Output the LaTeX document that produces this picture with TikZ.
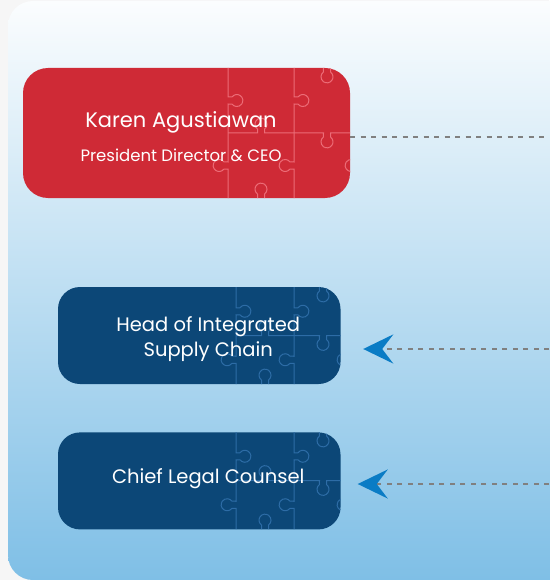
\documentclass[tikz,border=0pt]{standalone}
\usepackage{fontspec}
\setmainfont{Poppins}
\usepackage{tikz}
\usetikzlibrary{positioning,arrows.meta}

\definecolor{ceored}{HTML}{CF2A36}
\definecolor{seamred}{HTML}{EC6C77}
\definecolor{unitblue}{HTML}{0C4777}
\definecolor{seamblue}{HTML}{2D6CA6}
\definecolor{tipblue}{HTML}{0A7CC5}
\definecolor{dashgray}{HTML}{808080}
\definecolor{paneltop}{HTML}{FBFDFE}
\definecolor{panelbot}{HTML}{7FBFE6}
\definecolor{pagegray}{HTML}{F6F6F6}

\tikzset{
  % one jigsaw edge of half length #1, knob sticking out along local +y
  pics/knob/.style={code={
    \draw[seam] (-#1,0) -- (-3.5,0) -- (-3.5,4)
      arc[start angle=234, end angle=-54, radius=6] -- (3.5,0) -- (#1,0);
  }},
}

% jigsaw seams: x of first seam, top y, cell width, cell height
\newcommand{\jigsaw}[4]{%
  \foreach \col in {0,1} {
    \pic[rotate=-90] at ({#1+\col*#3},{#2-0.5*#4}) {knob=0.5*#4};
    \pic[rotate=90] at ({#1+\col*#3},{#2-1.5*#4}) {knob=0.5*#4};
  }
  \pic at ({#1+0.5*#3},{#2-#4}) {knob=0.5*#3};
  \pic[rotate=180] at ({#1+1.5*#3},{#2-#4}) {knob=0.5*#3};
  \pic[rotate=180] at ({#1+1.5*#3},#2) {knob=3.5};
  \pic at ({#1+0.5*#3},{#2-2*#4}) {knob=3.5};
  \pic[rotate=90] at ({#1+2*#3},{#2-1.5*#4}) {knob=0.5*#4};
}

\begin{document}
\begin{tikzpicture}[
x=1pt, y=1pt,
ceobox/.style={fill=ceored, rounded corners=25pt, inner sep=0pt, minimum width=327pt, minimum height=130pt},
unitbox/.style={fill=unitblue, rounded corners=22pt, inner sep=0pt, minimum width=282.5pt, minimum height=97pt},
boxtext/.style={text=white, align=center, inner sep=0pt},
dashline/.style={draw=dashgray, line width=2.8pt, dash pattern=on 5pt off 5.5pt},
reportsto/.style={dashline, -{Stealth[length=30pt, width=29pt, inset=11pt, color=tipblue]}},
]
\useasboundingbox (0,0) rectangle (549,-580);
\fill[pagegray] (0,0) rectangle (549,-580);

%Panel
\shade[top color=paneltop, bottom color=panelbot, rounded corners=25pt] (8,-1) rectangle (620,-580);

%Boxes
\node[ceobox] (ceo) at (186.5,-133) {};
\node[unitbox] (scm) at (199.25,-335.5) {};
\node[unitbox, below=48pt of scm] (legal) {};

%Puzzle seams
\begin{scope}[seam/.style={draw=seamred, line width=1pt}]
  \clip[rounded corners=25pt] (ceo.north west) rectangle (ceo.south east);
  \jigsaw{228}{-68}{66}{65}
\end{scope}
\begin{scope}[seam/.style={draw=seamblue, line width=1pt}]
  \clip[rounded corners=22pt] (scm.north west) rectangle (scm.south east);
  \jigsaw{236}{-287}{58}{48.5}
\end{scope}
\begin{scope}[seam/.style={draw=seamblue, line width=1pt}]
  \clip[rounded corners=22pt] (legal.north west) rectangle (legal.south east);
  \jigsaw{236}{-432}{58}{48.5}
\end{scope}

%Texts
\node[boxtext, font=\fontsize{21}{25}\selectfont] (ceo-name) at ([shift={(-5.5,11)}]ceo.center) {Karen Agustiawan};
\node[boxtext, font=\fontsize{16.5}{20}\selectfont] (ceo-title) at ([shift={(-5.5,-22)}]ceo.center) {President Director \& CEO};
\node[boxtext, font=\fontsize{19.5}{25}\selectfont] (scm-text) at ([shift={(9,-4)}]scm.center) {Head of Integrated\\Supply Chain};
\node[boxtext, font=\fontsize{19.5}{24}\selectfont] (legal-text) at ([shift={(9,2.5)}]legal.center) {Chief Legal Counsel};

%Connections to the right
\coordinate (ceo-out) at (549,-137);
\coordinate (scm-in) at (549,-349);
\coordinate (legal-in) at (549,-484);
\draw[dashline] (ceo.east |- ceo-out) -- (ceo-out);
\draw[reportsto, shorten >=22.5pt] (scm-in) -- (scm.east |- scm-in);
\draw[reportsto, shorten >=17pt] (legal-in) -- (legal.east |- legal-in);
\end{tikzpicture}
\end{document}
